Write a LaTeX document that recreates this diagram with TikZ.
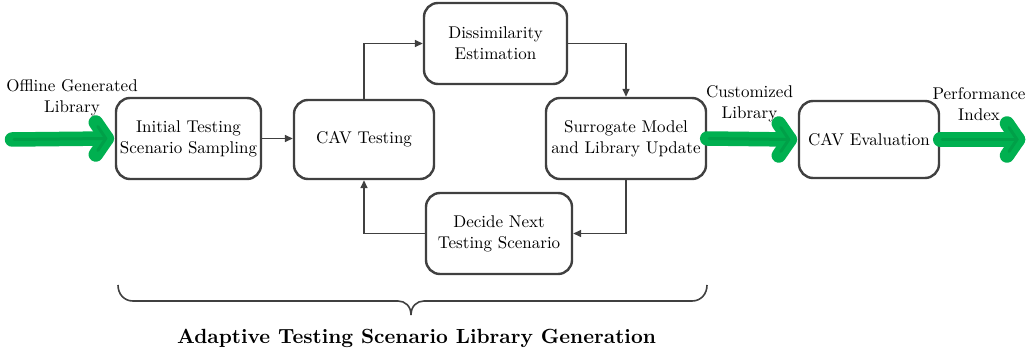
\documentclass[tikz,border=0pt]{standalone}
\usepackage{fontspec}
\setmainfont{lmroman10-regular.otf}[BoldFont=lmroman10-bold.otf,ItalicFont=lmroman10-italic.otf]
\usetikzlibrary{arrows.meta,calc}
\definecolor{boxgray}{HTML}{404040}
\definecolor{arrgreen}{HTML}{00B050}
\definecolor{arrgreendark}{HTML}{00A048}
\begin{document}
\begin{tikzpicture}[x=1pt,y=-1pt,
  box/.style={draw=boxgray,line width=2.4pt,rounded corners=14pt,align=center,
    font=\fontsize{17}{21}\selectfont,inner sep=2pt},
  conn/.style={draw=boxgray,line width=1.5pt,-{Triangle[length=8pt,width=7pt]}},
  lbl/.style={align=center,font=\fontsize{17}{21}\selectfont,inner sep=0pt},
  garrow/.style={draw=arrgreen,line width=14.5pt,line cap=round,line join=round},
  garrowin/.style={draw=arrgreendark,line width=3pt,line cap=round,line join=round}
]
\useasboundingbox (0,0) rectangle (1027,352);

\node[box,minimum width=145pt,minimum height=81pt] (init) at (188.5,138.5) {Initial Testing\\Scenario Sampling};
\node[box,minimum width=140pt,minimum height=79pt] (cav) at (364,139.5) {CAV Testing};
\node[box,minimum width=143pt,minimum height=81pt] (diss) at (495.5,43.5) {Dissimilarity\\Estimation};
\node[box,minimum width=146pt,minimum height=81pt] (dec) at (499,233.5) {Decide Next\\Testing Scenario};
\node[box,minimum width=160pt,minimum height=81pt] (sur) at (626,138.5) {Surrogate Model\\and Library Update};
\node[box,minimum width=140pt,minimum height=77pt] (eval) at (869,139.5) {CAV Evaluation};

% connectors
\draw[conn] (init.east) -- (init.east -| cav.west);
\draw[conn] (cav.north) |- (diss.west);
\draw[conn] (diss.east) -| (sur.north);
\draw[conn] (sur.south) |- (dec.east);
\draw[conn] (dec.west) -| (cav.south);

% green arrows
\coordinate (gstart) at (12,139.5);
\coordinate (gend) at (1026,139.5);

\foreach \s/\t in {gstart/init.west, sur.east/eval.west, eval.east/gend}{
  \draw[garrow] (\s) -- ($(\t)+(-8,0)$);
  \draw[garrow] ($(\t)+(-19,-16)$) -- ($(\t)+(-8,0)$) -- ($(\t)+(-19,16)$);
  \draw[garrowin] ($(\s)+(2,0)$) -- ($(\t)+(-9,0)$);
  \draw[garrowin] ($(\t)+(-17,-12)$) -- ($(\t)+(-9,0)$) -- ($(\t)+(-17,12)$);
}

% labels
\node[lbl] (l1) at (72,98) {Offline Generated\\Library};
\node[lbl] (l2) at (749.5,104) {Customized\\Library};
\node[lbl] (l3) at (979,104) {Performance\\Index};

% brace
\draw[boxgray,line width=1.6pt] (118,285) .. controls (118,294) and (124,301) .. (133,301)
  -- (398,301) .. controls (405,301) and (411,306) .. (411,315)
  .. controls (411,306) and (417,301) .. (424,301)
  -- (692,301) .. controls (701,301) and (707,294) .. (707,285);

\node[anchor=base,font=\fontsize{20.5}{24}\selectfont\bfseries,inner sep=0pt] (title) at (416.5,343) {Adaptive Testing Scenario Library Generation};
\end{tikzpicture}
\end{document}
